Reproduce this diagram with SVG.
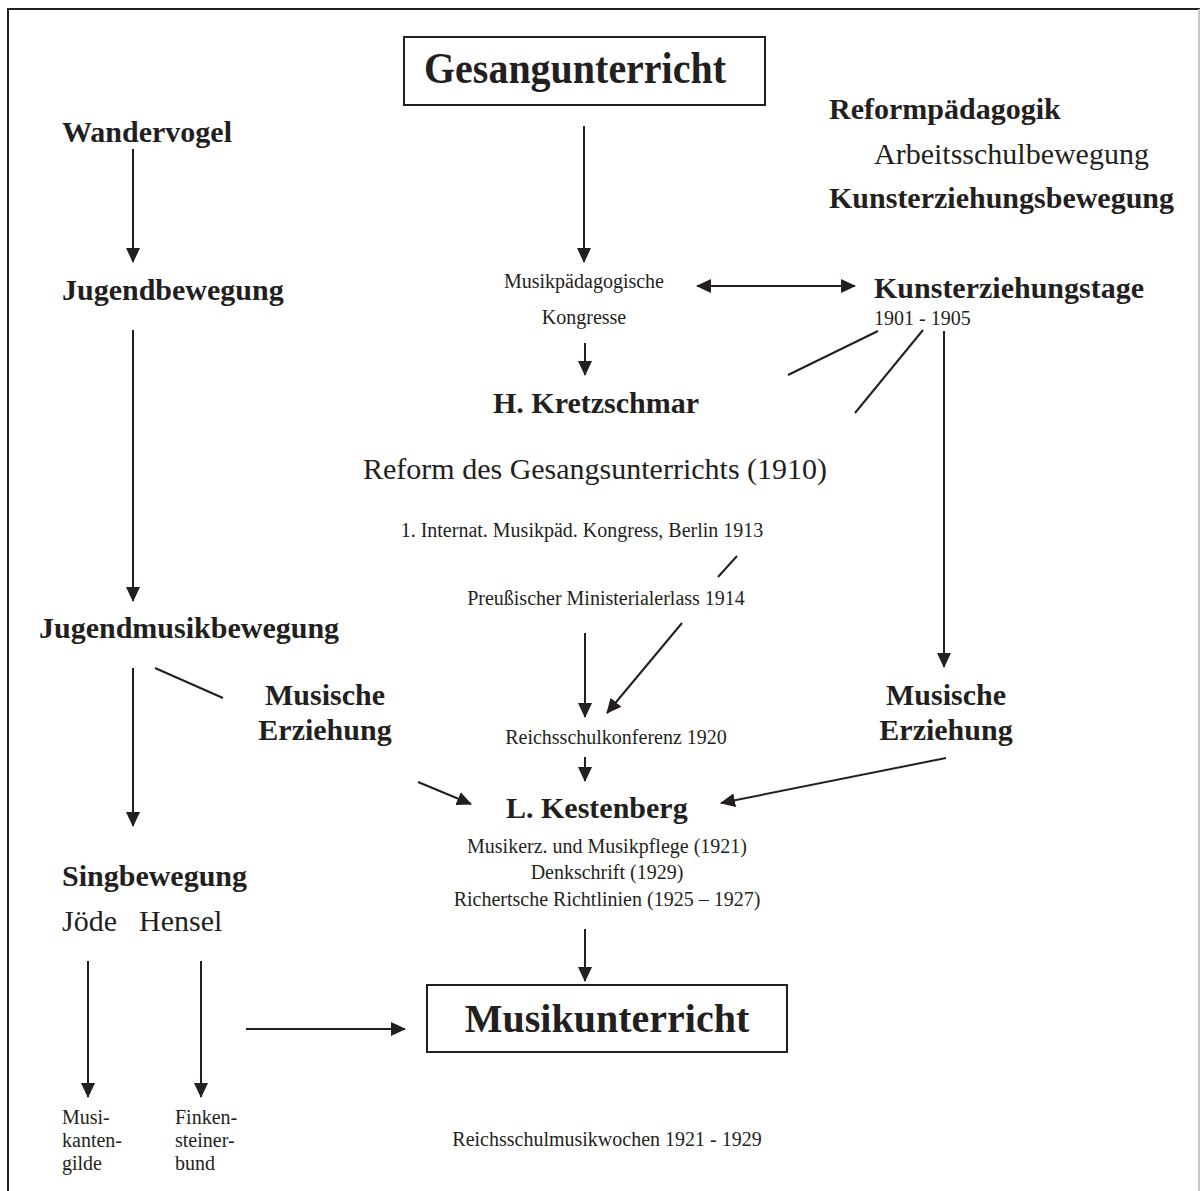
<svg xmlns="http://www.w3.org/2000/svg" width="1200" height="1191" viewBox="0 0 1200 1191">
  <style>
    text { font-family: "Liberation Serif", "Times New Roman", serif; fill: #231f20; }
    .b { font-weight: bold; font-size: 30px; }
    .r { font-size: 30px; }
    .s { font-size: 20px; }
    .c { text-anchor: middle; }
    .ln { stroke: #231f20; stroke-width: 2; fill: none; }
    .arr { marker-end: url(#ah); }
    .box { fill: #fff; stroke: #231f20; stroke-width: 2; }
  </style>
  <defs>
    <marker id="ah" viewBox="0 0 15 14" refX="14" refY="7" markerWidth="15" markerHeight="14" markerUnits="userSpaceOnUse" orient="auto-start-reverse">
      <path d="M0,0 L15,7 L0,14 z" fill="#231f20"/>
    </marker>
  </defs>

  <!-- page background and frame -->
  <rect x="0" y="0" width="1200" height="1191" fill="#fff"/>
  <path d="M8,1191 V9 H1200" stroke="#231f20" stroke-width="2" fill="none"/>
  <line x1="1199" y1="9" x2="1199" y2="1191" stroke="#c8c8c8" stroke-width="2"/>

  <!-- connectors -->
  <g id="connectors">
    <path class="ln arr" d="M133,149 V262"/>
    <path class="ln arr" d="M133,330 V601"/>
    <path class="ln arr" d="M133,668 V826"/>
    <path class="ln" d="M155,668 L223,698"/>
    <path class="ln arr" d="M418,782 L471,804"/>
    <path class="ln arr" d="M88,961 V1097"/>
    <path class="ln arr" d="M201,961 V1097"/>
    <path class="ln arr" d="M246,1029 H405"/>
    <path class="ln arr" d="M584,126 V262"/>
    <path class="ln arr" d="M697,286 H855" marker-start="url(#ah)"/>
    <path class="ln arr" d="M585,343 V375"/>
    <path class="ln" d="M878,331 L788,375"/>
    <path class="ln" d="M923,330 L855,413"/>
    <path class="ln arr" d="M944,331 V667"/>
    <path class="ln" d="M737,556 L718,577"/>
    <path class="ln arr" d="M585,633 V717"/>
    <path class="ln arr" d="M682,623 L607,713"/>
    <path class="ln arr" d="M585,757 V781"/>
    <path class="ln arr" d="M946,758 L721,803"/>
    <path class="ln arr" d="M585,929 V981"/>
  </g>

  <!-- nodes -->
  <g id="gesangunterricht">
    <rect class="box" x="404" y="37" width="361" height="68"/>
    <text x="424" y="83" font-weight="bold" font-size="44" textLength="302" lengthAdjust="spacingAndGlyphs">Gesangunterricht</text>
  </g>
  <g id="wandervogel"><text class="b" x="62" y="142">Wandervogel</text></g>
  <g id="jugendbewegung"><text class="b" x="62" y="300">Jugendbewegung</text></g>
  <g id="jugendmusikbewegung"><text class="b" x="39" y="638">Jugendmusikbewegung</text></g>
  <g id="musische-links">
    <text class="b c" x="325" y="705">Musische</text>
    <text class="b c" x="325" y="740">Erziehung</text>
  </g>
  <g id="singbewegung">
    <text class="b" x="62" y="886">Singbewegung</text>
    <text class="r" x="62" y="931">Jöde</text>
    <text class="r" x="139" y="931">Hensel</text>
  </g>
  <g id="musikantengilde">
    <text class="s" x="62" y="1124">Musi-</text>
    <text class="s" x="62" y="1147">kanten-</text>
    <text class="s" x="62" y="1170">gilde</text>
  </g>
  <g id="finkensteinerbund">
    <text class="s" x="175" y="1124">Finken-</text>
    <text class="s" x="175" y="1147">steiner-</text>
    <text class="s" x="175" y="1170">bund</text>
  </g>
  <g id="reformpaedagogik">
    <text class="b" x="829" y="119">Reformpädagogik</text>
    <text class="r" x="874" y="164">Arbeitsschulbewegung</text>
    <text class="b" x="829" y="208">Kunsterziehungsbewegung</text>
  </g>
  <g id="kongresse">
    <text class="s c" x="584" y="288">Musikpädagogische</text>
    <text class="s c" x="584" y="324">Kongresse</text>
  </g>
  <g id="kunsterziehungstage">
    <text class="b" x="874" y="298">Kunsterziehungstage</text>
    <text class="s" x="874" y="325">1901 - 1905</text>
  </g>
  <g id="kretzschmar"><text class="b" x="493" y="413">H. Kretzschmar</text></g>
  <g id="reform"><text class="r" x="363" y="479">Reform des Gesangsunterrichts (1910)</text></g>
  <g id="kongress-1913"><text class="s c" x="582" y="537">1. Internat. Musikpäd. Kongress, Berlin 1913</text></g>
  <g id="ministerialerlass"><text class="s c" x="606" y="605">Preußischer Ministerialerlass 1914</text></g>
  <g id="reichsschulkonferenz"><text class="s c" x="616" y="744">Reichsschulkonferenz 1920</text></g>
  <g id="musische-rechts">
    <text class="b c" x="946" y="705">Musische</text>
    <text class="b c" x="946" y="740">Erziehung</text>
  </g>
  <g id="kestenberg">
    <text class="b" x="506" y="818">L. Kestenberg</text>
    <text class="s c" x="607" y="853">Musikerz. und Musikpflege (1921)</text>
    <text class="s c" x="607" y="879">Denkschrift (1929)</text>
    <text class="s c" x="607" y="906">Richertsche Richtlinien (1925 – 1927)</text>
  </g>
  <g id="musikunterricht">
    <rect class="box" x="427" y="985" width="360" height="67"/>
    <text class="c" x="607" y="1032" font-weight="bold" font-size="40">Musikunterricht</text>
  </g>
  <g id="reichsschulmusikwochen"><text class="s c" x="607" y="1146">Reichsschulmusikwochen 1921 - 1929</text></g>
</svg>
